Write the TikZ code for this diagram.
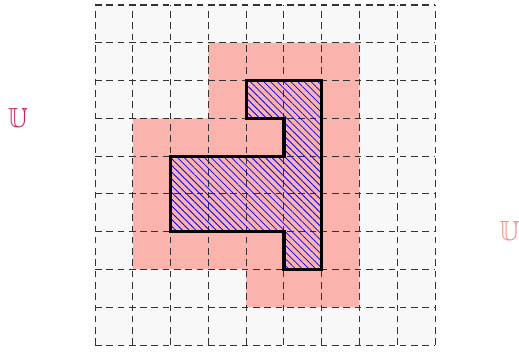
\documentclass[tikz,border=0pt]{standalone}
\usepackage{amsmath,amssymb}
\usepackage{xcolor}
\usepackage{tikz}
\usetikzlibrary{patterns.meta}
\definecolor{cellgray}{HTML}{F8F8F8}
\definecolor{outerpink}{HTML}{FBB3AE}
\definecolor{innerlabel}{HTML}{C8205C}
\definecolor{outerlabel}{HTML}{F7877E}
\tikzset{
  gridline/.style={black!80, line width=0.8pt, dash pattern=on 5pt off 3.5pt},
  setborder/.style={black, line width=2.4pt, line join=miter},
  sethatch/.style={pattern={Lines[angle=-45, distance=3.6pt, line width=0.6pt]},
    pattern color=blue},
}

\begin{document}
\begin{tikzpicture}
        \useasboundingbox (-2.515,-0.185) rectangle (11.22,9.132);
        % Background cells
        \fill[cellgray] (0,0) rectangle (9,9);
        % Outer approximation
        \fill[outerpink] (3,8) -- (7,8) -- (7,1) -- (4,1) -- (4,2) -- (1,2)
            -- (1,6) -- (3,6) -- cycle;
        % Grid
        \draw[gridline] (0,0) grid (9,9);
        % Inner set
        \fill[sethatch] (4,7) -- (6,7) -- (6,2) -- (5,2) -- (5,3) -- (2,3)
            -- (2,5) -- (5,5) -- (5,6) -- (4,6) -- cycle;
        \draw[setborder] (4,7) -- (6,7) -- (6,2) -- (5,2) -- (5,3) -- (2,3)
            -- (2,5) -- (5,5) -- (5,6) -- (4,6) -- cycle;
        % Labels
        \node[text=innerlabel, font=\huge] (lblinner) at (-2.04,6.02) {$\mathbb{U}$};
        \node[text=outerlabel, font=\huge, anchor=west, inner sep=0pt] (lblouter)
            at (10.70,3.03) {$\mathbb{U}'$};
    \end{tikzpicture}
\end{document}
